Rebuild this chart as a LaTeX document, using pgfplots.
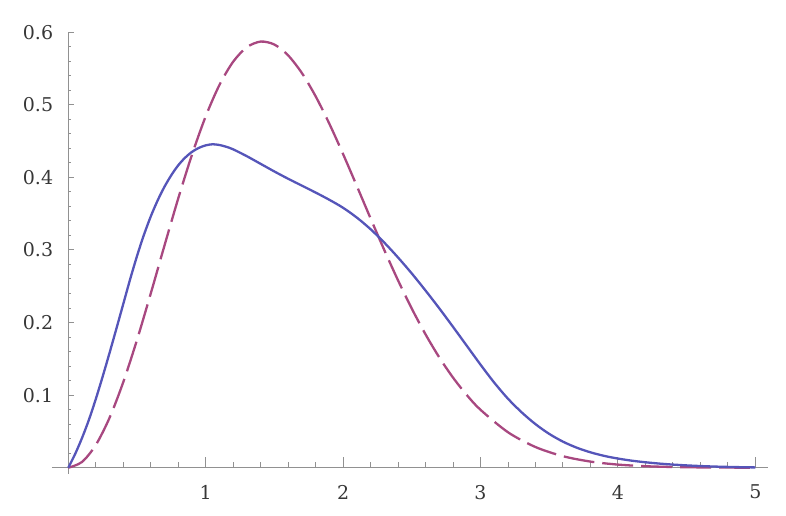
\documentclass[border=0pt]{standalone}
\usepackage{pgfplots}
\pgfplotsset{compat=1.18}
\usepackage{fontspec}
\setmainfont{DejaVu Serif}
\definecolor{curveA}{RGB}{85,85,185}
\definecolor{curveB}{RGB}{168,72,128}
\definecolor{axgray}{RGB}{145,145,145}
\definecolor{labgray}{RGB}{55,55,55}
\begin{document}
\begin{tikzpicture}
\useasboundingbox (-68.3pt,-47.3pt) rectangle (717.7pt,467.7pt);
\begin{axis}[anchor=origin, at={(0pt,0pt)},
  x=137.4pt, y=726pt,
  xmin=-0.12, xmax=5.09, ymin=-0.008, ymax=0.6,
  axis lines=middle, axis line style={-, draw=axgray, line width=1pt},
  tick align=inside,
  xtick={1,2,3,4,5}, ytick={0.1,0.2,0.3,0.4,0.5,0.6},
  minor xtick={0.2,0.4,0.6,0.8,1.2,1.4,1.6,1.8,2.2,2.4,2.6,2.8,3.2,3.4,3.6,3.8,4.2,4.4,4.6,4.8},
  minor ytick={0.02,0.04,0.06,0.08,0.12,0.14,0.16,0.18,0.22,0.24,0.26,0.28,0.32,0.34,0.36,0.38,0.42,0.44,0.46,0.48,0.52,0.54,0.56,0.58},
  every tick/.style={draw=axgray, line width=0.9pt},
  x tick style={/pgfplots/major tick length=11pt, /pgfplots/minor tick length=6pt},
  y tick style={/pgfplots/major tick length=6pt, /pgfplots/minor tick length=3pt},
  tick label style={font=\fontsize{19}{22}\selectfont, text=labgray, inner sep=0pt},
  xticklabel style={anchor=north, yshift=-17pt},
  yticklabel style={anchor=east, xshift=-15pt},
  /pgf/number format/.cd, fixed, precision=1, assume math mode=true,
]
% dashed curve
\addplot[curveB, line width=2.3pt, dash pattern=on 31pt off 8pt, smooth] coordinates {
(0,0)(0.1,0.00794)(0.2,0.03128)(0.3,0.06865)(0.4,0.11785)(0.5,0.17603)
(0.6,0.23992)(0.7,0.30601)(0.8,0.37080)(0.9,0.43106)(1.0,0.48394)
(1.1,0.52719)(1.2,0.55925)(1.3,0.57923)(1.4,0.58693)(1.5,0.58283)
(1.6,0.56792)(1.7,0.54361)(1.8,0.51160)(1.9,0.47373)(2.0,0.43193)
(2.1,0.38793)(2.2,0.34339)(2.3,0.29970)(2.4,0.25798)(2.5,0.21910)
(2.6,0.18364)(2.7,0.15193)(2.8,0.12411)(2.9,0.10012)(3.0,0.07977)
(3.2,0.04883)(3.4,0.02849)(3.6,0.01586)(3.8,0.00843)(4.0,0.00428)
(4.2,0.00208)(4.4,0.00097)(4.6,0.00043)(4.8,0.00018)(5.0,0.00007)};
% solid curve
\addplot[curveA, line width=2.3pt, smooth] coordinates {
(0,0)(0.05,0.019)(0.1,0.041)(0.15,0.066)(0.2,0.0945)(0.25,0.1255)(0.3,0.158)
(0.35,0.1915)(0.4,0.2255)(0.45,0.2595)(0.5,0.2915)(0.55,0.3205)(0.6,0.346)
(0.65,0.368)(0.7,0.387)(0.75,0.403)(0.8,0.4165)(0.85,0.427)(0.9,0.435)
(0.95,0.4405)(1.0,0.444)(1.05,0.4455)(1.1,0.4445)(1.15,0.442)(1.2,0.4385)
(1.3,0.429)(1.4,0.4185)(1.5,0.408)(1.6,0.398)(1.7,0.3885)(1.8,0.379)
(1.9,0.369)(2.0,0.358)(2.1,0.3445)(2.2,0.3285)(2.3,0.310)(2.4,0.2895)
(2.5,0.2675)(2.6,0.244)(2.7,0.2195)(2.8,0.194)(2.9,0.168)(3.0,0.142)
(3.1,0.1172)(3.2,0.095)(3.3,0.0762)(3.4,0.060)(3.5,0.0466)(3.6,0.0359)
(3.7,0.0276)(3.8,0.0212)(3.9,0.0163)(4.0,0.0126)(4.1,0.0097)(4.2,0.0075)
(4.3,0.0057)(4.4,0.0043)(4.5,0.0032)(4.6,0.0023)(4.7,0.0016)(4.8,0.0011)
(4.9,0.0007)(5.0,0.0004)};
\end{axis}
\end{tikzpicture}
\end{document}
